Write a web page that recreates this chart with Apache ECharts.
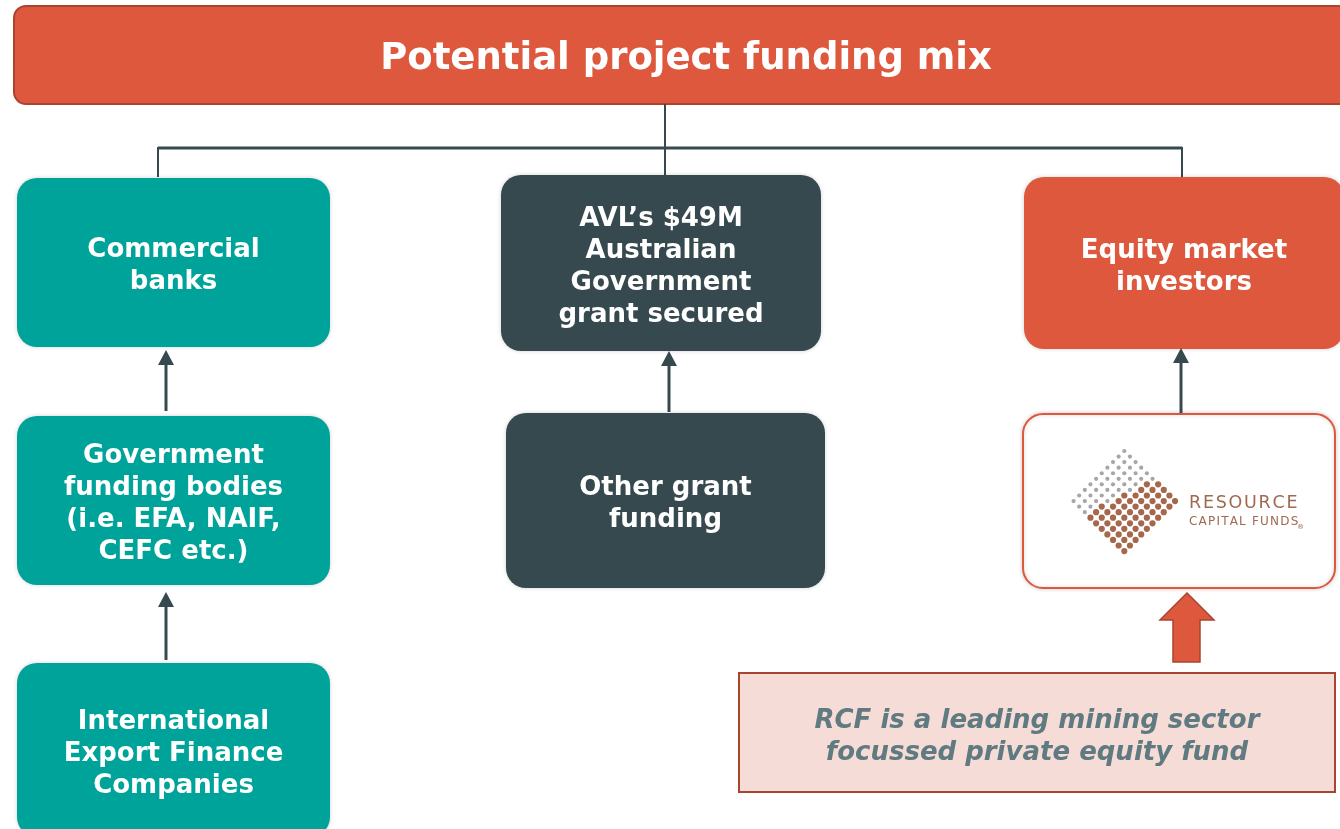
<!DOCTYPE html>
<html>
<head>
<meta charset="utf-8">
<script src="https://cdn.jsdelivr.net/npm/echarts@6/dist/echarts.min.js"></script>
<style>
  html, body { margin: 0; padding: 0; background: #fff; }
  #main { width: 1340px; height: 829px; }
</style>
</head>
<body>
<div id="main"></div>
<script>
// texts of the diagram
const titleText = 'Potential project funding mix';
const bankLabels = ['Commercial\nbanks', 'Government\nfunding bodies\n(i.e. EFA, NAIF,\nCEFC etc.)', 'International\nExport Finance\nCompanies'];
const grantLabels = ['AVL\u2019s $49M\nAustralian\nGovernment\ngrant secured', 'Other grant\nfunding'];
const equityLabels = ['Equity market\ninvestors'];
const logoWords = ['RESOURCE', 'CAPITAL FUNDS'];
const noteText = 'RCF is a leading mining sector\nfocussed private equity fund';

// colours
const TEAL = '#00a39a';
const DARK = '#36494e';
const ORANGE = '#de583e';
const ORANGE_EDGE = '#aa4430';
const FONT = '"DejaVu Sans", Verdana, sans-serif';

// box geometry [x, y, w, h]
const bankBoxes = [[17, 178, 313, 169], [17, 416, 313, 169], [17, 663, 313, 174]];
const grantBoxes = [[501, 175, 320, 176], [506, 413, 319, 175]];
const equityBox = [1024, 177, 320, 172];
const rcfBox = [1023, 414, 312, 174];

const elements = [];

function box(b, fill, label, stroke) {
  elements.push({
    type: 'rect',
    shape: { x: b[0], y: b[1], width: b[2], height: b[3], r: 20 },
    style: {
      fill: fill,
      stroke: stroke || null,
      lineWidth: stroke ? 2 : 0,
      shadowBlur: 4,
      shadowColor: 'rgba(0,0,0,0.18)'
    }
  });
  if (label) {
    elements.push({
      type: 'text',
      style: {
        text: label,
        x: b[0] + b[2] / 2,
        y: b[1] + b[3] / 2 + 4,
        fill: '#fff',
        font: 'bold 26px ' + FONT,
        lineHeight: 32,
        align: 'center',
        verticalAlign: 'middle'
      }
    });
  }
}

function line(x1, y1, x2, y2, w) {
  elements.push({
    type: 'line',
    shape: { x1: x1, y1: y1, x2: x2, y2: y2 },
    style: { stroke: DARK, lineWidth: w }
  });
}

function upArrow(x, yBottom, yTip) {
  line(x, yBottom, x, yTip + 12, 3);
  elements.push({
    type: 'polygon',
    shape: { points: [[x, yTip], [x + 8, yTip + 15], [x - 8, yTip + 15]] },
    style: { fill: DARK }
  });
}

// title bar
elements.push({
  type: 'rect',
  shape: { x: 14, y: 6, width: 1344, height: 98, r: 12 },
  style: { fill: ORANGE, stroke: ORANGE_EDGE, lineWidth: 2 }
});
elements.push({
  type: 'text',
  style: {
    text: titleText, x: 686, y: 59, fill: '#fff',
    font: 'bold 37px ' + FONT, align: 'center', verticalAlign: 'middle'
  }
});

// connectors from the title
line(665, 104, 665, 176, 2);
line(158, 148, 1182, 148, 3);
line(158, 147, 158, 177, 2);
line(1182, 147, 1182, 178, 2);

// boxes
bankBoxes.forEach(function (b, i) { box(b, TEAL, bankLabels[i]); });
grantBoxes.forEach(function (b, i) { box(b, DARK, grantLabels[i]); });
box(equityBox, ORANGE, equityLabels[0]);
box(rcfBox, '#fff', null, ORANGE);

// dark arrows
upArrow(166, 411, 350);
upArrow(166, 660, 592);
upArrow(669, 412, 351);
upArrow(1181, 413, 348);

// RCF logo: diamond of dots
const logoX = 1124.3, logoTop = 451, logoStepX = 5.64, logoStepY = 5.56;
for (let i = 0; i < 10; i++) {
  for (let j = 0; j < 10; j++) {
    const brown = 1.5 * i + 0.5 * j >= 8;
    elements.push({
      type: 'circle',
      shape: { cx: logoX + (i - j) * logoStepX, cy: logoTop + (i + j) * logoStepY, r: brown ? 3.1 : 2.1 },
      style: { fill: brown ? '#a5684b' : '#a6a6a6' }
    });
  }
}
elements.push({
  type: 'text',
  style: {
    text: logoWords[0].split('').join('\u200a'), x: 1189, y: 503, fill: '#9e6a52',
    font: '17.5px ' + FONT, align: 'left', verticalAlign: 'middle'
  }
});
elements.push({
  type: 'text',
  style: {
    text: logoWords[1].split('').join('\u200a'), x: 1189, y: 522, fill: '#9e6a52',
    font: '12px ' + FONT, align: 'left', verticalAlign: 'middle'
  }
});
elements.push({
  type: 'text',
  style: { text: '\u00ae', x: 1297, y: 527, fill: '#9e6a52', font: '7px ' + FONT, align: 'left', verticalAlign: 'middle' }
});

// big orange arrow
elements.push({
  type: 'polygon',
  shape: { points: [[1187, 593], [1214, 620], [1200, 620], [1200, 662], [1173, 662], [1173, 620], [1160, 620]] },
  style: { fill: ORANGE, stroke: ORANGE_EDGE, lineWidth: 1.5 }
});

// note box
elements.push({
  type: 'rect',
  shape: { x: 739, y: 673, width: 596, height: 119 },
  style: { fill: '#f6dcd6', stroke: ORANGE_EDGE, lineWidth: 2 }
});
elements.push({
  type: 'text',
  style: {
    text: noteText, x: 1037, y: 737, fill: '#5f7a80',
    font: 'italic bold 26px ' + FONT, lineHeight: 32,
    align: 'center', verticalAlign: 'middle'
  }
});

const chart = echarts.init(document.getElementById('main'));
chart.setOption({
  backgroundColor: '#fff',
  animation: false,
  graphic: { elements: elements }
});
</script>
</body>
</html>
